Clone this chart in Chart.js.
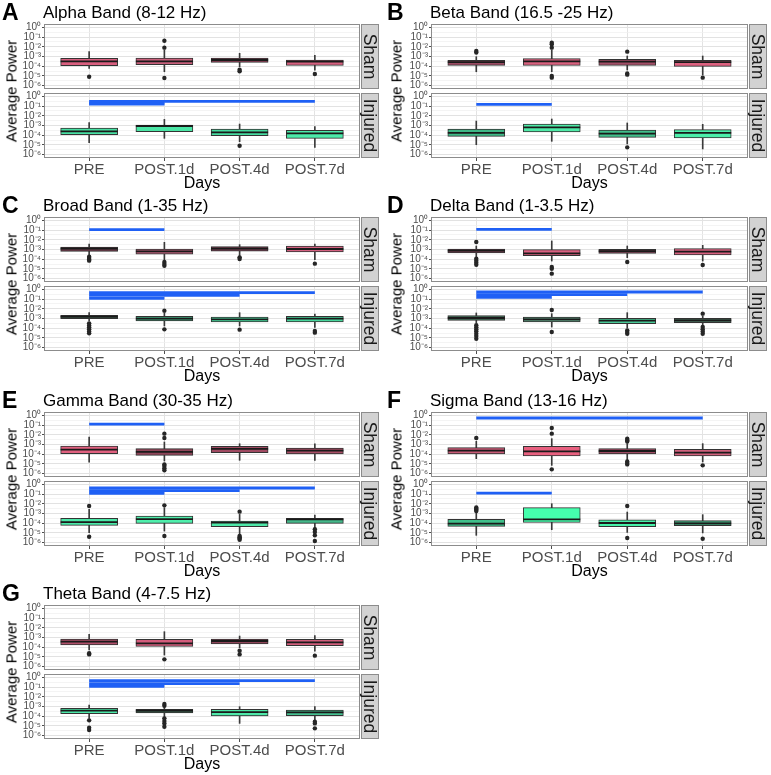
<!DOCTYPE html>
<html>
<head>
<meta charset="utf-8">
<script src="https://cdn.jsdelivr.net/npm/chart.js@4.4.1/dist/chart.umd.min.js"></script>
<style>
body{margin:0;background:#fff;font-family:"Liberation Sans",Arial,sans-serif;}
#fig{position:relative;width:771px;height:775px;overflow:hidden;background:#fff}
canvas{position:absolute}
.tag{position:absolute;font-weight:bold;font-size:23px;line-height:1;color:#000}
.ttl{position:absolute;font-size:17px;line-height:1;color:#000;white-space:nowrap}
.ylab{position:absolute;font-size:15px;line-height:1;white-space:nowrap;transform:translate(-50%,-50%) rotate(-90deg)}
</style>
</head>
<body>
<div id="fig"></div>
<script>
const days = ['PRE', 'POST.1d', 'POST.4d', 'POST.7d'];
const decades = [0, -1, -2, -3, -4, -5, -6];

// box stats per day, log10(power): [low whisker, Q1, median, Q3, high whisker]
// outliers per day (log10), significance bars: [from day, to day, log10 height]
const alphaSham = [[-4.22,-3.95,-3.50,-3.19,-2.50],[-4.57,-3.84,-3.50,-3.16,-2.33],[-4.05,-3.60,-3.36,-3.16,-2.67],[-4.40,-3.91,-3.53,-3.36,-2.88]];
const alphaShamOut = [[-5.08],[-1.37,-2.09,-5.22],[-4.36,-4.53],[-4.80]];
const alphaShamSig = [];
const alphaInj = [[-4.77,-3.95,-3.60,-3.26,-2.71],[-4.32,-3.64,-3.05,-2.95,-2.37],[-4.67,-4.05,-3.71,-3.36,-2.85],[-5.25,-4.32,-3.81,-3.50,-3.12]];
const alphaInjOut = [[],[],[-5.08],[]];
const alphaInjSig = [[0,3,-0.52],[0,1,-0.70],[0,1,-0.80]];

const betaSham = [[-4.57,-3.91,-3.57,-3.40,-3.02],[-4.57,-3.91,-3.50,-3.22,-2.33],[-4.39,-3.91,-3.53,-3.29,-2.95],[-4.91,-4.02,-3.57,-3.40,-2.95]];
const betaShamOut = [[-2.43,-2.60],[-1.57,-1.75,-2.09,-5.01,-5.18],[-2.50,-4.74,-4.87],[-5.18]];
const betaShamSig = [];
const betaInj = [[-4.98,-4.12,-3.77,-3.36,-2.54],[-4.63,-3.67,-3.19,-2.85,-2.33],[-4.90,-4.22,-3.84,-3.47,-2.74],[-5.42,-4.29,-3.77,-3.43,-2.88]];
const betaInjOut = [[],[],[-5.25],[]];
const betaInjSig = [[0,1,-0.82]];

const broadSham = [[-3.64,-3.19,-2.92,-2.74,-2.43],[-4.05,-3.47,-3.19,-2.95,-2.26],[-3.64,-3.16,-2.92,-2.71,-2.50],[-4.05,-3.26,-2.95,-2.64,-2.43]];
const broadShamOut = [[-3.75,-3.88,-4.02,-4.15],[-4.29,-4.50,-4.67],[-3.81,-3.98],[-4.46]];
const broadShamSig = [[0,1,-0.96]];
const broadInj = [[-3.26,-3.02,-2.81,-2.67,-2.40],[-3.77,-3.26,-3.02,-2.78,-2.40],[-3.77,-3.36,-3.09,-2.85,-2.40],[-3.92,-3.36,-3.02,-2.78,-2.54]];
const broadInjOut = [[-3.50,-3.71,-3.91,-4.12,-4.33,-4.53],[-2.19,-4.12],[-4.15],[-4.29,-4.46]];
const broadInjSig = [[0,3,-0.34],[0,2,-0.61],[0,1,-0.92]];

const deltaSham = [[-3.74,-3.36,-3.12,-2.95,-2.64],[-4.19,-3.64,-3.40,-3.02,-2.12],[-3.84,-3.40,-3.16,-2.98,-2.64],[-4.19,-3.57,-3.22,-2.91,-2.57]];
const deltaShamOut = [[-2.23,-3.95,-4.15,-4.36,-4.57],[-4.81,-4.98,-5.49],[-4.29],[-4.60]];
const deltaShamSig = [[0,1,-0.92]];
const deltaInj = [[-3.46,-3.19,-2.95,-2.71,-2.43],[-3.88,-3.36,-3.09,-2.85,-2.50],[-3.98,-3.53,-3.22,-2.98,-2.40],[-3.70,-3.43,-3.19,-2.98,-2.74]];
const deltaInjOut = [[-3.70,-3.91,-4.12,-4.32,-4.57,-4.81,-5.08],[-2.12,-4.39],[-4.22,-4.40,-4.57],[-2.50,-3.88,-4.12,-4.33,-4.57]];
const deltaInjSig = [[0,3,-0.27],[0,2,-0.54],[0,1,-0.82]];

const gammaSham = [[-4.81,-3.95,-3.53,-3.16,-2.23],[-4.70,-4.12,-3.77,-3.43,-2.74],[-4.63,-3.84,-3.46,-3.19,-2.92],[-4.63,-3.98,-3.64,-3.36,-2.92]];
const gammaShamOut = [[],[-1.88,-2.33,-5.05,-5.22,-5.45,-5.66],[],[]];
const gammaShamSig = [[0,1,-0.89]];
const gammaInj = [[-4.98,-4.22,-3.88,-3.50,-2.57],[-4.81,-4.02,-3.57,-3.26,-2.40],[-5.15,-4.36,-3.95,-3.77,-3.09],[-4.46,-4.02,-3.60,-3.50,-3.16]];
const gammaInjOut = [[-2.23,-5.39],[-2.16,-5.32],[-2.81,-5.32,-5.45,-5.58,-5.70],[-4.63,-4.91,-5.25,-5.84]];
const gammaInjSig = [[0,3,-0.37],[0,2,-0.65],[0,1,-0.92]];

const sigmaSham = [[-4.46,-3.98,-3.64,-3.33,-2.67],[-5.15,-4.19,-3.71,-3.19,-2.40],[-4.60,-3.98,-3.67,-3.43,-2.91],[-4.80,-4.19,-3.84,-3.50,-2.91]];
const sigmaShamOut = [[-2.33],[-1.30,-1.88,-5.56],[-2.40,-2.55,-2.70,-4.74,-4.90,-5.05],[-5.15]];
const sigmaShamSig = [[0,3,-0.27]];
const sigmaInj = [[-5.25,-4.32,-4.05,-3.60,-2.90],[-4.67,-3.91,-3.60,-2.40,-1.99],[-4.95,-4.36,-3.98,-3.64,-2.85],[-5.00,-4.26,-4.02,-3.74,-3.12]];
const sigmaInjOut = [[-2.37,-2.50,-2.62,-2.74],[],[-2.23,-5.53],[-5.60]];
const sigmaInjSig = [[0,1,-0.89]];

const thetaSham = [[-4.29,-3.77,-3.43,-3.16,-2.67],[-4.81,-3.91,-3.60,-3.19,-2.40],[-4.05,-3.67,-3.36,-3.16,-2.85],[-4.40,-3.84,-3.50,-3.19,-2.81]];
const thetaShamOut = [[-4.63,-4.74],[-5.25],[-4.36,-4.74],[-4.87]];
const thetaShamSig = [];
const thetaInj = [[-4.22,-3.74,-3.43,-3.19,-2.85],[-4.05,-3.67,-3.43,-3.29,-3.02],[-4.74,-3.98,-3.57,-3.29,-3.02],[-4.39,-3.95,-3.60,-3.36,-3.02]];
const thetaInjOut = [[-4.43,-5.18,-5.42],[-2.74,-2.92,-4.22,-4.50,-4.74,-5.08],[],[-4.56,-4.74,-5.25]];
const thetaInjSig = [[0,3,-0.34],[0,2,-0.65],[0,1,-0.92]];

const panels = [
  {tag:'A', title:'Alpha Band (8-12 Hz)', col:0, row:0,
   sham:[alphaSham, alphaShamOut, alphaShamSig], inj:[alphaInj, alphaInjOut, alphaInjSig],
   shamFill:['#d95f7f','#c9607c','#93425a','#d6607f'], injFill:['#48e0a3','#4be6a6','#46dba0','#4cebaa']},
  {tag:'B', title:'Beta Band (16.5 -25 Hz)', col:1, row:0,
   sham:[betaSham, betaShamOut, betaShamSig], inj:[betaInj, betaInjOut, betaInjSig],
   shamFill:['#9a4a62','#d9627f','#a24e66','#dd6180'], injFill:['#3fb886','#4feba8','#41be8a','#4cefaa']},
  {tag:'C', title:'Broad Band (1-35 Hz)', col:0, row:1,
   sham:[broadSham, broadShamOut, broadShamSig], inj:[broadInj, broadInjOut, broadInjSig],
   shamFill:['#6e3a4a','#b8607a','#7a3f52','#d46080'], injFill:['#3e5a4a','#42a97e','#49e0a2','#47d69c']},
  {tag:'D', title:'Delta Band (1-3.5 Hz)', col:1, row:1,
   sham:[deltaSham, deltaShamOut, deltaShamSig], inj:[deltaInj, deltaInjOut, deltaInjSig],
   shamFill:['#7e4256','#da6080','#7a4053','#d8607f'], injFill:['#45705a','#5a957a','#48c896','#4a6e5c']},
  {tag:'E', title:'Gamma Band (30-35 Hz)', col:0, row:2,
   sham:[gammaSham, gammaShamOut, gammaShamSig], inj:[gammaInj, gammaInjOut, gammaInjSig],
   shamFill:['#e0607f','#8e4458','#a04a62','#a84e66'], injFill:['#4be8a8','#4fefac','#4de8a8','#45b88a']},
  {tag:'F', title:'Sigma Band (13-16 Hz)', col:1, row:2,
   sham:[sigmaSham, sigmaShamOut, sigmaShamSig], inj:[sigmaInj, sigmaInjOut, sigmaInjSig],
   shamFill:['#c85a76','#e8607f','#9e4a62','#d0607c'], injFill:['#3fc08a','#45ffad','#46f0a8','#3e9e76']},
  {tag:'G', title:'Theta Band (4-7.5 Hz)', col:0, row:3,
   sham:[thetaSham, thetaShamOut, thetaShamSig], inj:[thetaInj, thetaInjOut, thetaInjSig],
   shamFill:['#b0506a','#d45c7c','#8e4458','#d25e7c'], injFill:['#4be8a8','#3f6652','#4de8a8','#45c090']}
];

const FONT = '"Liberation Sans", Arial, sans-serif';
const BLUE = '#1f60f5';
const shamTop = [24, 217, 412, 605];
const cols = [{left:0, width:385, yw:44, padR:25}, {left:385, width:386, yw:46, padR:23}];
const PAD = 8;
const fig = document.getElementById('fig');

const L = v => Math.pow(10, v);
const isMajor = v => { const e = Math.log10(v); return Math.abs(e - Math.round(e)) < 1e-6; };
const SUP = {'0':'\u2070','1':'\u00b9','2':'\u00b2','3':'\u00b3','4':'\u2074','5':'\u2075','6':'\u2076','-':'\u207b'};
const supLabel = e => '10' + String(e).split('').map(c => SUP[c]).join('');

const framePlugin = {
  id: 'frame',
  afterDraw(chart) {
    const {ctx, chartArea: a} = chart;
    const label = chart.options.plugins.frame.label;
    ctx.save();
    ctx.strokeStyle = '#8c8c8c';
    ctx.lineWidth = 1;
    ctx.strokeRect(a.left + 0.5, a.top + 0.5, a.width - 1, a.height - 1);
    const sx = a.right + 1, sw = 18;
    ctx.fillStyle = '#d2d2d2';
    ctx.fillRect(sx, a.top, sw, a.height);
    ctx.strokeRect(sx + 0.5, a.top + 0.5, sw - 1, a.height - 1);
    ctx.translate(sx + sw / 2, a.top + a.height / 2);
    ctx.rotate(Math.PI / 2);
    ctx.fillStyle = '#1a1a1a';
    ctx.font = '17.5px ' + FONT;
    ctx.textAlign = 'center';
    ctx.textBaseline = 'middle';
    ctx.fillText(label, 0, 1);
    ctx.restore();
  }
};

function facet(col, top, height, strip, facetData, fills, bottomAxis) {
  const [stats, outs, sigs] = facetData;
  const c = document.createElement('canvas');
  c.width = col.width; c.height = height;
  c.style.left = col.left + 'px'; c.style.top = top + 'px';
  fig.appendChild(c);

  const datasets = [];
  sigs.forEach(s => datasets.push({
    type: 'line', data: [{x: s[0], y: L(s[2])}, {x: s[1], y: L(s[2])}],
    borderColor: BLUE, borderWidth: 2.8, borderCapStyle: 'butt', pointRadius: 0, order: 0
  }));
  const pts = [];
  outs.forEach((o, i) => o.forEach(v => pts.push({x: i, y: L(v)})));
  datasets.push({type: 'line', data: pts, showLine: false, pointRadius: 2.2,
    pointBackgroundColor: '#262626', pointBorderWidth: 0, order: 1});
  datasets.push({type: 'line', data: stats.map((s, i) => ({x: i, y: L(s[2])})), showLine: false,
    pointStyle: 'line', pointRadius: 28.5, pointBorderColor: '#1a1a1a', borderColor: '#1a1a1a',
    pointBorderWidth: 1.8, order: 2});
  datasets.push({type: 'bar', data: stats.map((s, i) => ({x: i, y: [L(s[1]), L(s[3])]})),
    backgroundColor: fills, borderColor: '#333', borderWidth: 1, borderSkipped: false,
    barThickness: 57, grouped: false, order: 3});
  datasets.push({type: 'bar', data: stats.map((s, i) => ({x: i, y: [L(s[0]), L(s[4])]})),
    backgroundColor: '#3a3a3a', borderWidth: 0, barThickness: 1, grouped: false, order: 4});

  new Chart(c, {
    type: 'bar',
    data: {datasets},
    options: {
      responsive: false, animation: false, events: [],
      layout: {autoPadding: false, padding: {top: PAD, bottom: bottomAxis ? 0 : PAD, left: 0, right: col.padR}},
      plugins: {legend: {display: false}, tooltip: {enabled: false}, frame: {label: strip}},
      scales: {
        x: {
          type: 'linear', min: -0.6, max: 3.6, offset: false, bounds: 'data',
          afterBuildTicks: s => { s.ticks = days.map((d, i) => ({value: i})); },
          afterFit: s => { s.height = bottomAxis ? 35 : 0; },
          grid: {offset: false, color: '#e3e3e3', lineWidth: 1, drawTicks: bottomAxis, tickLength: 3, tickColor: '#4d4d4d'},
          border: {display: false},
          ticks: {display: bottomAxis, autoSkip: false, maxRotation: 0, padding: 0, color: '#4d4d4d',
            font: {family: FONT, size: 15}, callback: v => days[v] ?? ''},
          title: {display: bottomAxis, text: 'Days', color: '#000', padding: 0, font: {family: FONT, size: 16}}
        },
        y: {
          type: 'logarithmic', min: L(-6.35), max: L(0.35), bounds: 'data',
          afterBuildTicks: s => {
            const t = [];
            decades.forEach((e, k) => {
              if (k < decades.length - 1) t.push({value: L(e - 0.5)});
              t.push({value: L(e)});
            });
            s.ticks = t.sort((a, b) => a.value - b.value);
          },
          afterFit: s => { s.width = col.yw; },
          grid: {
            color: ctx => isMajor(ctx.tick.value) ? '#e2e2e2' : '#efefef',
            lineWidth: ctx => isMajor(ctx.tick.value) ? 1 : 0.7,
            tickLength: 2,
            tickColor: ctx => isMajor(ctx.tick.value) ? '#4d4d4d' : 'rgba(0,0,0,0)'
          },
          border: {display: false},
          ticks: {autoSkip: false, padding: 1, color: '#4d4d4d', font: {family: FONT, size: 10},
            callback: v => {
              const e = Math.round(Math.log10(v));
              return isMajor(v) && decades.includes(e) ? supLabel(e) : '';
            }}
        }
      }
    },
    plugins: [framePlugin]
  });
}

function addDiv(cls, text, left, top) {
  const d = document.createElement('div');
  d.className = cls; d.textContent = text;
  d.style.left = left + 'px'; d.style.top = top + 'px';
  fig.appendChild(d);
}

panels.forEach(p => {
  const col = cols[p.col];
  const st = shamTop[p.row];
  const it = st + 69;
  facet(col, st - PAD, 65 + 2 * PAD, 'Sham', p.sham, p.shamFill, false);
  facet(col, it - PAD, PAD + 65 + 35, 'Injured', p.inj, p.injFill, true);
  addDiv('tag', p.tag, col.left + 2, st - 23.5);
  addDiv('ttl', p.title, col.left + col.yw - 1, st - 20.3);
  addDiv('ylab', 'Average Power', col.left + 10.5, st + 67);
});
</script>
</body>
</html>
